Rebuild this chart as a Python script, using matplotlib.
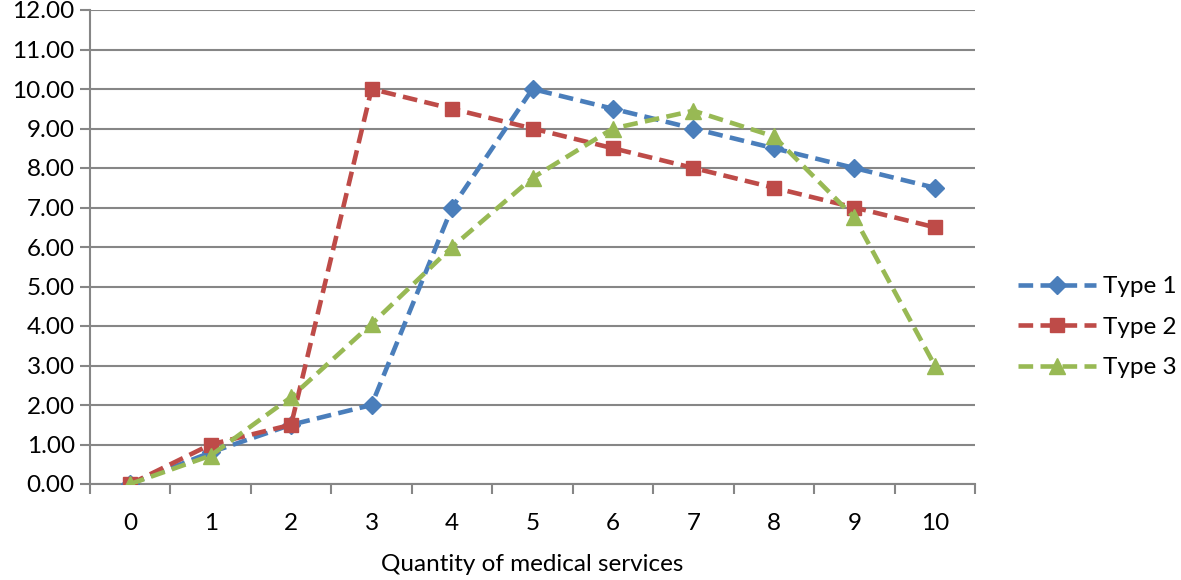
import matplotlib.pyplot as plt
import numpy as np

plt.rcParams['font.family'] = ['Lato', 'DejaVu Sans']

quantity = [0, 1, 2, 3, 4, 5, 6, 7, 8, 9, 10]
type1 = [0, 0.8, 1.5, 2.0, 7.0, 10.0, 9.5, 9.0, 8.5, 8.0, 7.5]
type2 = [0, 1.0, 1.5, 10.0, 9.5, 9.0, 8.5, 8.0, 7.5, 7.0, 6.5]
type3 = [0, 0.72, 2.2, 4.05, 6.0, 7.75, 9.0, 9.45, 8.8, 6.75, 3.0]
labels = ['Type 1', 'Type 2', 'Type 3']

fig = plt.figure(figsize=(11.81, 5.8), dpi=100)
ax = fig.add_axes([90 / 1181, 1 - 484 / 580, 885 / 1181, 474 / 580])

series = [(type1, '#4A7EBB', 'D', 9), (type2, '#BE4B48', 's', 10), (type3, '#98B954', '^', 11)]
for (vals, col, mk, ms), lab in zip(series, labels):
    ax.plot(quantity, vals, color=col, linestyle=(0, (3.2, 1.6)), linewidth=3.3,
            marker=mk, markersize=ms, markerfacecolor=col, markeredgecolor=col,
            label=lab, zorder=3)

ax.set_xlim(-0.5, 10.5)
ax.set_ylim(0, 12)
ax.set_yticks(np.arange(0, 13, 1))
ax.set_yticklabels(['%.2f' % v for v in range(13)])
ax.set_xticks(quantity)
ax.set_xticklabels([str(q) for q in quantity])
ax.set_xticks(np.arange(-0.5, 11, 1), minor=True)
ax.tick_params(axis='x', which='major', length=0, pad=21, labelsize=17.5)
ax.tick_params(axis='x', which='minor', length=7, width=1.5, color='#868686', direction='out')
ax.tick_params(axis='y', length=7, width=1.5, color='#868686', direction='out', labelsize=17.5, pad=4)

ax.grid(axis='y', color='#868686', linewidth=1.5)
ax.set_axisbelow(True)
for s in ['top', 'right']:
    ax.spines[s].set_visible(False)
for s in ['left', 'bottom']:
    ax.spines[s].set_color('#868686')
    ax.spines[s].set_linewidth(1.5)

ax.set_xlabel('Quantity of medical services', fontsize=17.5, labelpad=14)

ax.legend(loc='center left', bbox_to_anchor=(1.049, 0.331), frameon=False,
          fontsize=17.5, handlelength=3.2, labelspacing=0.8, handletextpad=0.3,
          borderaxespad=0, borderpad=0)

fig.savefig('out.png', dpi=100)
